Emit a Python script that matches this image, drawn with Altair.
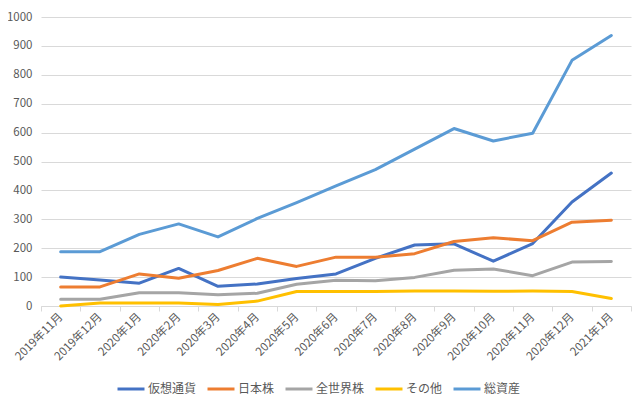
import altair as alt
import pandas as pd

months = ["2019年11月", "2019年12月", "2020年1月", "2020年2月", "2020年3月", "2020年4月",
          "2020年5月", "2020年6月", "2020年7月", "2020年8月", "2020年9月", "2020年10月",
          "2020年11月", "2020年12月", "2021年1月"]
series_names = ["仮想通貨", "日本株", "全世界株", "その他", "総資産"]
crypto = [100, 90, 79, 130, 68, 76, 95, 111, 165, 211, 215, 155, 216, 360, 460]
japan = [66, 66, 111, 96, 123, 165, 137, 169, 169, 181, 223, 236, 226, 290, 297]
world = [23, 23, 46, 46, 39, 44, 75, 89, 87, 99, 124, 128, 105, 152, 154]
other = [0, 10, 10, 10, 5, 17, 50, 50, 50, 52, 52, 51, 52, 50, 26]
total = [188, 188, 248, 284, 239, 303, 358, 416, 472, 543, 614, 571, 598, 850, 936]
colors = ["#4472C4", "#ED7D31", "#A5A5A5", "#FFC000", "#5B9BD5"]

rows = []
for name, vals in zip(series_names, [crypto, japan, world, other, total]):
    for m, v in zip(months, vals):
        rows.append({"month": m, "series": name, "value": v})
df = pd.DataFrame(rows)

FONT = "Noto Sans CJK JP"

chart = alt.Chart(df).mark_line(strokeWidth=3, strokeCap="round", strokeJoin="round").encode(
    x=alt.X("month:N", sort=months, title=None,
            scale=alt.Scale(type="band", paddingInner=0, paddingOuter=0),
            axis=alt.Axis(labelAngle=-45, labelAlign="right", labelBaseline="middle",
                          tickBand="extent", tickSize=5, tickColor="#D9D9D9",
                          domainColor="#D9D9D9", grid=False, labelPadding=4,
                          labelFontSize=11.5, labelColor="#595959", labelFont=FONT)),
    y=alt.Y("value:Q", title=None,
            scale=alt.Scale(domain=[0, 1000], nice=False),
            axis=alt.Axis(values=list(range(0, 1001, 100)), format="d", domain=False,
                          ticks=False, gridColor="#D9D9D9", gridWidth=1, labelPadding=9,
                          labelFontSize=11.5, labelColor="#595959", labelFont=FONT)),
    color=alt.Color("series:N", sort=series_names,
                    scale=alt.Scale(domain=series_names, range=colors),
                    legend=alt.Legend(title=None, orient="none", legendX=75, legendY=357,
                                      direction="horizontal", columns=5, gridAlign="none",
                                      symbolType="stroke",
                                      symbolStrokeWidth=3, symbolSize=729, columnPadding=4,
                                      labelOffset=2, labelFontSize=12, labelColor="#595959",
                                      labelFont=FONT)),
    order=alt.Order("series:N"),
).properties(
    width=590, height=289,
    autosize=alt.AutoSizeParams(type="none"),
    padding={"left": 33, "top": 9, "right": 1, "bottom": 92},
).configure_view(stroke=None)

chart.save("out.html", embed_options={"renderer": "svg", "actions": False})
